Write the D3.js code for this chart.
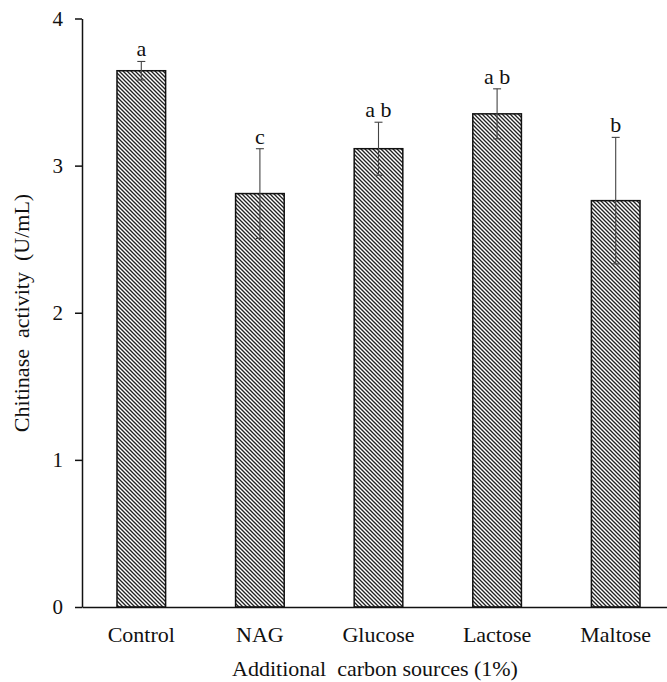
<!DOCTYPE html>
<html>
<head>
<meta charset="utf-8">
<script src="https://cdn.jsdelivr.net/npm/d3@7"></script>
<style>
  html, body { margin: 0; padding: 0; background: #fff; }
  svg { display: block; }
  text { font-family: "Liberation Serif", "Times New Roman", serif; fill: #111; }
</style>
</head>
<body>
<svg id="chart" width="667" height="682"></svg>
<script>
const categories = ["Control", "NAG", "Glucose", "Lactose", "Maltose"];
const means = [3.645, 2.81, 3.115, 3.352, 2.762];
const errors = [0.063, 0.305, 0.18, 0.17, 0.43];
const letters = ["a", "c", "a b", "a b", "b"];
const yTicks = [0, 1, 2, 3, 4];
const xTitle = "Additional  carbon sources (1%)";
const yTitle = "Chitinase  activity  (U/mL)";

const W = 667, H = 682;
const svg = d3.select("#chart");

const x = d3.scaleBand().domain(categories).range([82, 675]).paddingInner(0.59).paddingOuter(0.295);
const y = d3.scaleLinear().domain([0, 4]).range([607, 18.5]);

// hatch pattern
const defs = svg.append("defs");
const pat = defs.append("pattern")
  .attr("id", "hatch").attr("patternUnits", "userSpaceOnUse")
  .attr("width", 4).attr("height", 4);
pat.append("rect").attr("width", 4).attr("height", 4).attr("fill", "#fff");
pat.append("path")
  .attr("d", "M-1,-1 L5,5 M-1,3 L1,5 M3,-1 L5,1")
  .attr("stroke", "#222").attr("stroke-width", 1.35);

// bars
svg.append("g").selectAll("rect").data(categories).join("rect")
  .attr("x", d => x(d))
  .attr("y", (d, i) => y(means[i]))
  .attr("width", x.bandwidth())
  .attr("height", (d, i) => y(0) - y(means[i]))
  .attr("fill", "url(#hatch)")
  .attr("stroke", "#111").attr("stroke-width", 1.5);

// error bars
const eb = svg.append("g").attr("stroke", "#444").attr("stroke-width", 1.1);
categories.forEach((c, i) => {
  const cx = x(c) + x.bandwidth() / 2;
  const top = y(means[i] + errors[i]), bot = y(means[i] - errors[i]);
  eb.append("line").attr("x1", cx).attr("x2", cx).attr("y1", top).attr("y2", bot);
  eb.append("line").attr("x1", cx - 4).attr("x2", cx + 4).attr("y1", top).attr("y2", top);
  eb.append("line").attr("x1", cx - 4).attr("x2", cx + 4).attr("y1", bot).attr("y2", bot);
});

// significance letters
svg.append("g").selectAll("text").data(categories).join("text")
  .attr("x", d => x(d) + x.bandwidth() / 2)
  .attr("y", (d, i) => y(means[i] + errors[i]) - 5)
  .attr("text-anchor", "middle")
  .attr("font-size", 22)
  .text((d, i) => letters[i]);

// y axis
const yAxis = svg.append("g").attr("transform", "translate(82,0)")
  .call(d3.axisLeft(y).tickValues(yTicks).tickFormat(d3.format("d")).tickSize(7).tickSizeOuter(0).tickPadding(12));
yAxis.selectAll("path, line").attr("stroke", "#111").attr("stroke-width", 1.5);
yAxis.selectAll("text").attr("font-size", 21).attr("font-family", "Liberation Serif").attr("fill", "#111");

// x axis
const xAxis = svg.append("g").attr("transform", "translate(0,607)")
  .call(d3.axisBottom(x).tickSize(0).tickSizeOuter(0).tickPadding(19));
xAxis.selectAll("path").attr("stroke", "#111").attr("stroke-width", 1.5);
xAxis.selectAll("text").attr("font-size", 22).attr("font-family", "Liberation Serif").attr("fill", "#111");

// titles
svg.append("text")
  .attr("x", 375).attr("y", 676)
  .attr("text-anchor", "middle").attr("font-size", 22)
  .style("white-space", "pre")
  .text(xTitle);

svg.append("text")
  .attr("transform", "translate(29,313) rotate(-90)")
  .attr("text-anchor", "middle").attr("font-size", 22)
  .style("white-space", "pre")
  .text(yTitle);
</script>
</body>
</html>
